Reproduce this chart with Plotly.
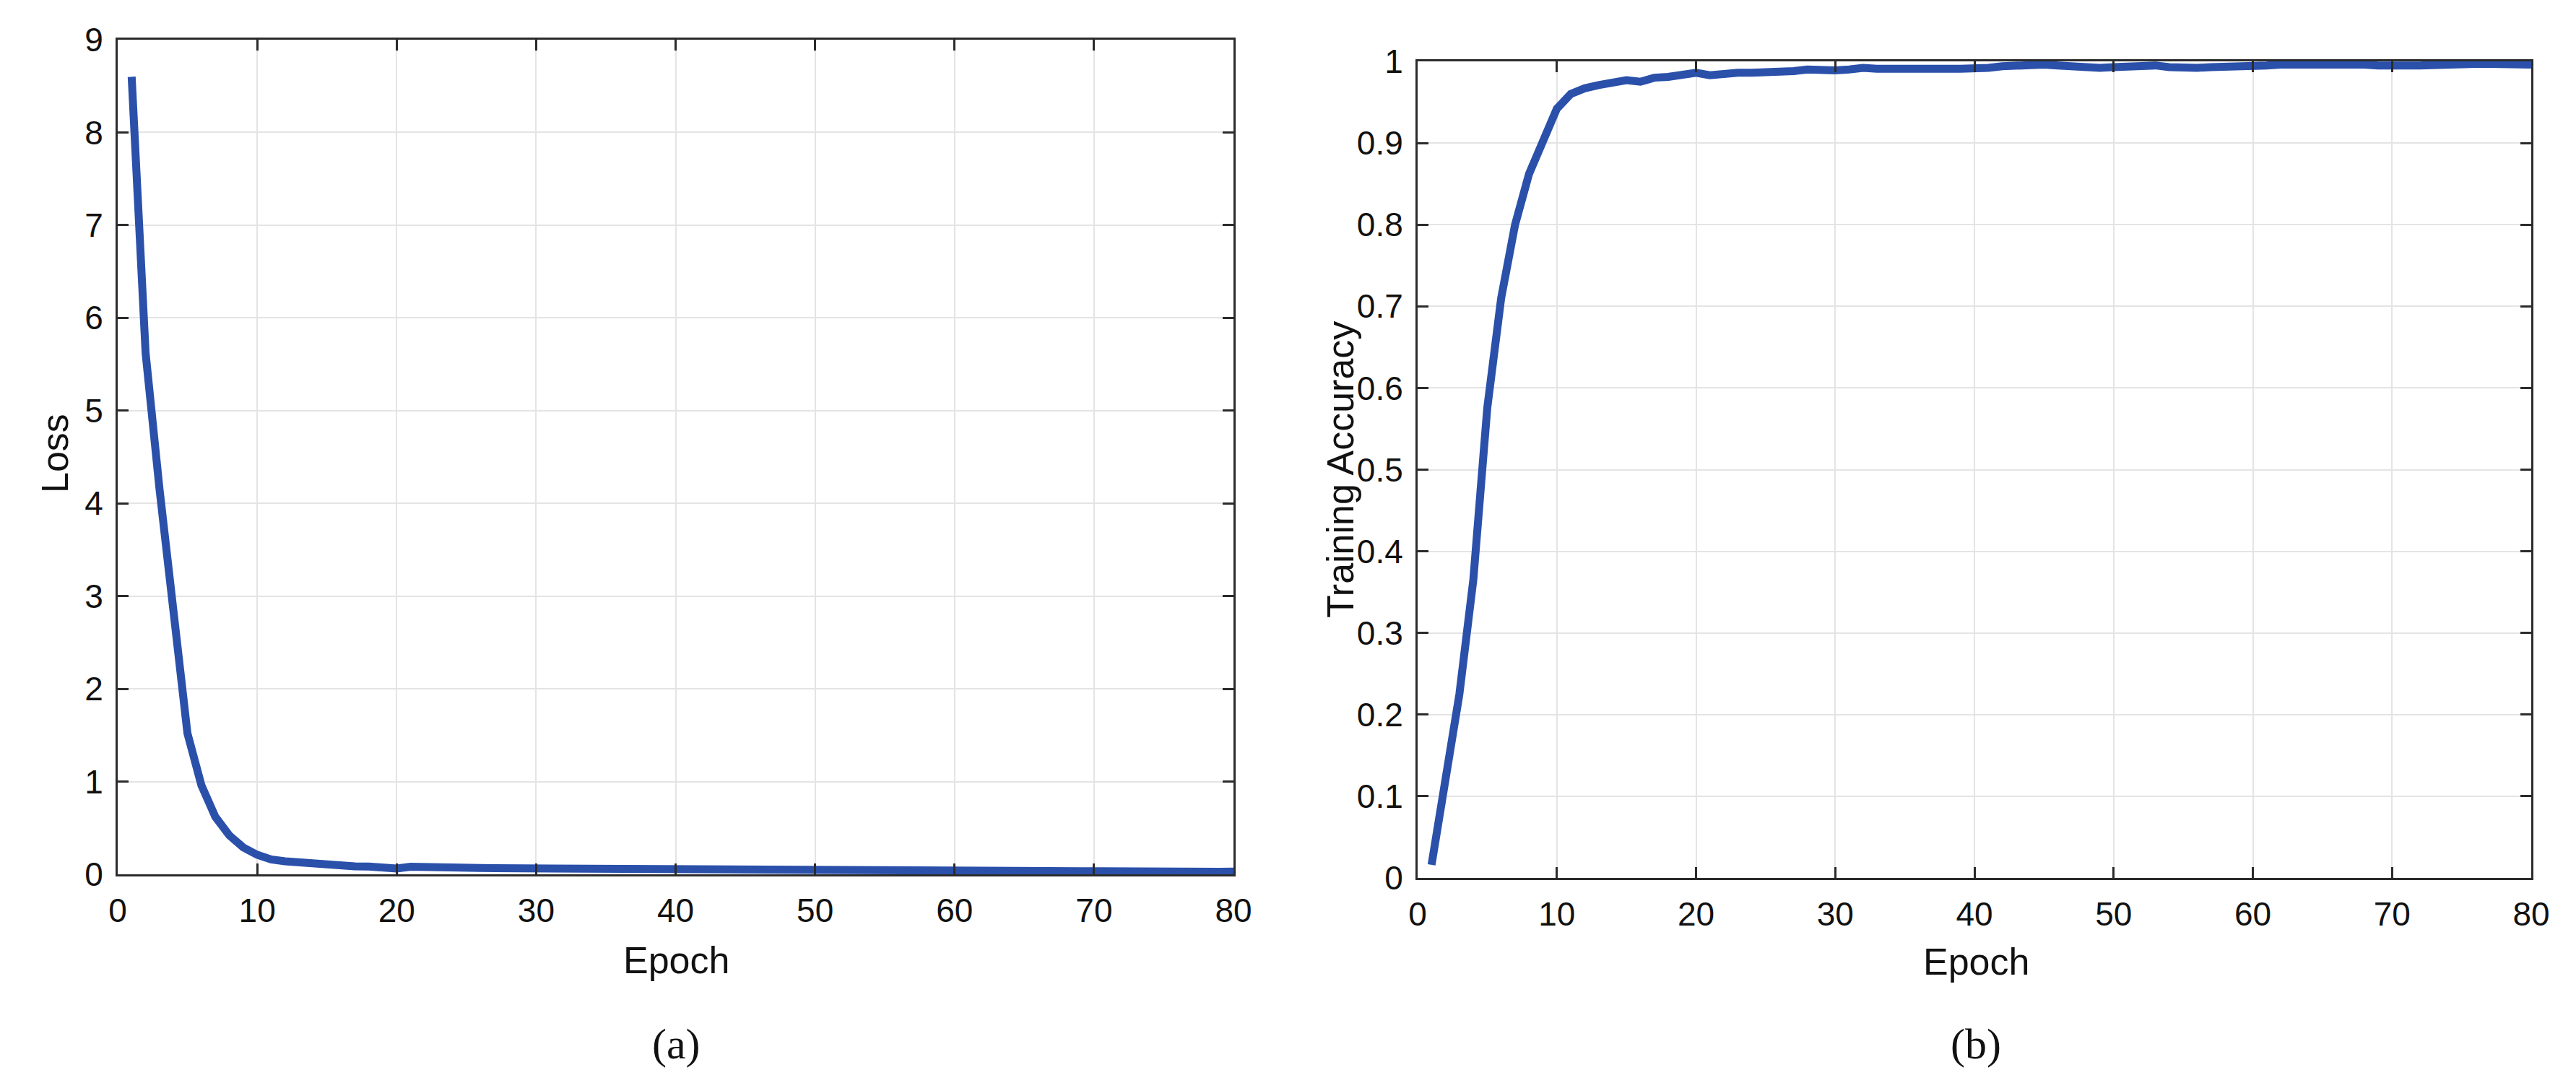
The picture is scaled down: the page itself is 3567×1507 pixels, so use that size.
import plotly.graph_objects as go

# ---------------- data ----------------
epochs = list(range(1, 81))

loss = [
    8.60, 5.62, 4.15, 2.85, 1.52, 0.96, 0.62, 0.42, 0.29, 0.21,
    0.16, 0.14, 0.125, 0.115, 0.105, 0.100, 0.085, 0.083, 0.072, 0.062,
    0.082, 0.075, 0.072, 0.070, 0.073, 0.068, 0.066, 0.065, 0.062, 0.060,
    0.058, 0.056, 0.053, 0.052, 0.052, 0.053, 0.055, 0.058, 0.052, 0.047,
    0.043, 0.040, 0.038, 0.037, 0.036, 0.037, 0.038, 0.039, 0.040, 0.040,
    0.037, 0.035, 0.033, 0.032, 0.033, 0.034, 0.032, 0.030, 0.029, 0.030,
    0.031, 0.029, 0.027, 0.025, 0.023, 0.025, 0.028, 0.031, 0.033, 0.034,
    0.031, 0.028, 0.025, 0.022, 0.021, 0.023, 0.025, 0.027, 0.028, 0.029,
]

accuracy = [
    0.016, 0.115, 0.225, 0.365, 0.575, 0.710, 0.800, 0.862, 0.905, 0.942,
    0.960, 0.967, 0.971, 0.974, 0.977, 0.975, 0.980, 0.981, 0.984, 0.986,
    0.983, 0.985, 0.986, 0.986, 0.986, 0.987, 0.988, 0.990, 0.989, 0.989,
    0.990, 0.992, 0.991, 0.990, 0.991, 0.991, 0.992, 0.991, 0.991, 0.991,
    0.992, 0.994, 0.995, 0.995, 0.996, 0.995, 0.994, 0.992, 0.992, 0.993,
    0.994, 0.995, 0.995, 0.993, 0.992, 0.992, 0.993, 0.993, 0.994, 0.995,
    0.995, 0.996, 0.996, 0.997, 0.997, 0.998, 0.997, 0.996, 0.995, 0.994,
    0.995, 0.995, 0.996, 0.996, 0.997, 0.997, 0.997, 0.997, 0.996, 0.996,
]

x_ticks = [0, 10, 20, 30, 40, 50, 60, 70, 80]
loss_ticks = [0, 1, 2, 3, 4, 5, 6, 7, 8, 9]
acc_ticks = [0, 0.1, 0.2, 0.3, 0.4, 0.5, 0.6, 0.7, 0.8, 0.9, 1]

x_title = "Epoch"
loss_title = "Loss"
acc_title = "Training Accuracy"
captions = ["(a)", "(b)"]

# ---------------- layout helpers ----------------
W, H = 3567, 1507


def fx(px):
    return px / W


def fy(py):
    return 1 - py / H


LINE_COLOR = "#2a50aa"
AXIS_COLOR = "#2b2b2b"
GRID_COLOR = "#e4e4e4"
SANS = "Liberation Sans, Arial, sans-serif"
SERIF = "Liberation Serif, Times New Roman, serif"
TICK_FONT = dict(family=SANS, size=46, color="#111111")

fig = go.Figure()
fig.add_trace(go.Scatter(x=epochs, y=loss, mode="lines",
                         line=dict(color=LINE_COLOR, width=11),
                         xaxis="x", yaxis="y", showlegend=False))
fig.add_trace(go.Scatter(x=epochs, y=accuracy, mode="lines",
                         line=dict(color=LINE_COLOR, width=11),
                         xaxis="x2", yaxis="y2", showlegend=False))

common = dict(
    showgrid=True, gridcolor=GRID_COLOR, gridwidth=2,
    showline=True, linecolor=AXIS_COLOR, linewidth=3, mirror="ticks",
    ticks="inside", ticklen=15, tickwidth=3, tickcolor=AXIS_COLOR,
    tickfont=TICK_FONT, zeroline=False, fixedrange=True, automargin=False,
)

fig.update_layout(
    template="none",
    width=W, height=H,
    margin=dict(l=0, r=0, t=0, b=0, pad=0, autoexpand=False),
    paper_bgcolor="white", plot_bgcolor="white",
    showlegend=False,
    xaxis=dict(domain=[fx(155), fx(1700)], range=[0, 80], tickvals=x_ticks,
               anchor="y", ticklabelstandoff=8, **common),
    yaxis=dict(domain=[fy(1203), fy(47)], range=[0, 9], tickvals=loss_ticks,
               anchor="x", ticklabelstandoff=8, **common),
    xaxis2=dict(domain=[fx(1955), fx(3497)], range=[0, 80], tickvals=x_ticks,
                anchor="y2", ticklabelstandoff=8, **common),
    yaxis2=dict(domain=[fy(1208), fy(77)], range=[0, 1], tickvals=acc_ticks,
                anchor="x2", ticklabelstandoff=8, **common),
)

ann_font = dict(family=SANS, size=52, color="#111111")
cap_font = dict(family=SERIF, size=60, color="#111111")
annotations = [
    dict(text=x_title, x=fx(928), y=fy(1322), font=ann_font),
    dict(text=x_title, x=fx(2728), y=fy(1324), font=ann_font),
    dict(text=loss_title, x=fx(68), y=fy(620), font=ann_font, textangle=-90),
    dict(text=acc_title, x=fx(1848), y=fy(643), font=ann_font, textangle=-90),
    dict(text=captions[0], x=fx(928), y=fy(1438), font=cap_font),
    dict(text=captions[1], x=fx(2728), y=fy(1438), font=cap_font),
]
for a in annotations:
    a.update(xref="paper", yref="paper", xanchor="center", yanchor="middle",
             showarrow=False)
fig.update_layout(annotations=annotations)

fig.write_html("out.html")
